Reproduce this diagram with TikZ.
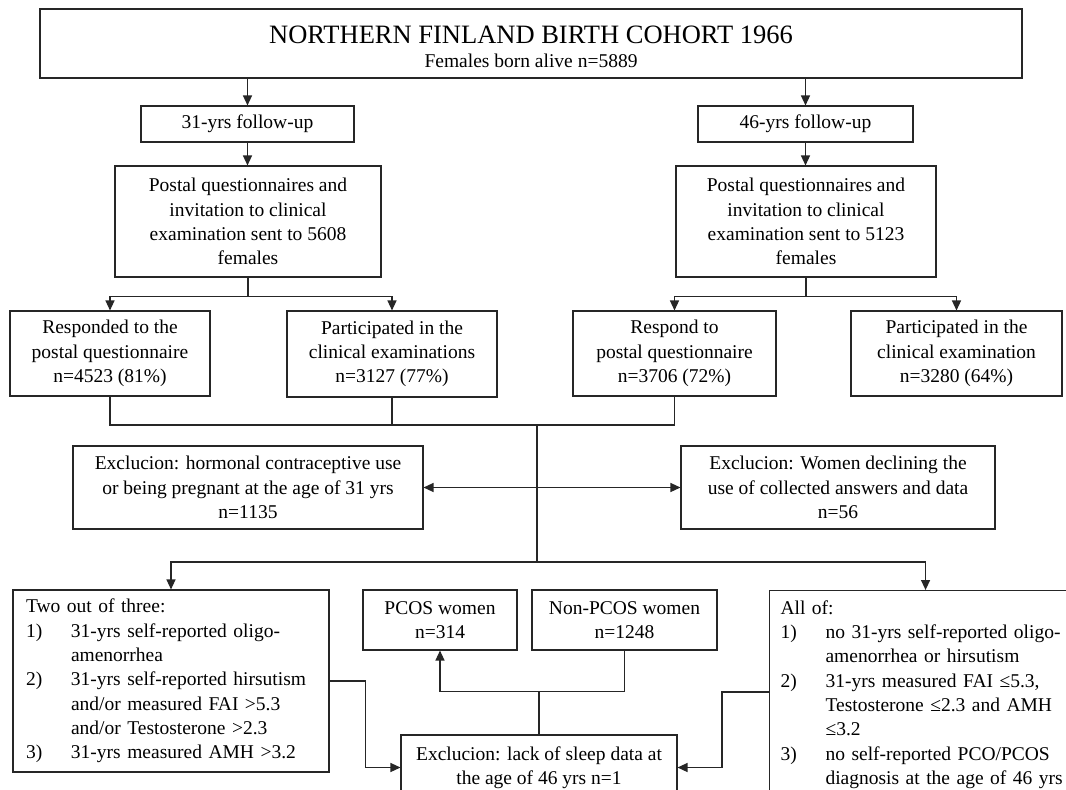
\documentclass[tikz,border=0pt]{standalone}
\usepackage{fontspec}
\setmainfont{Liberation Serif}
\usetikzlibrary{arrows.meta,calc}
\newcommand{\itemlab}[1]{\makebox[45pt][l]{#1}}
\newcommand{\itemind}{\hspace*{45pt}}
\begin{document}
\begin{tikzpicture}[x=1pt,y=-1pt,
  box/.style={draw=black!85, line width=1.1pt, rectangle, inner sep=0pt, align=center, font=\fontsize{19.5}{24.3}\selectfont},
  ln/.style={draw=black!85, line width=1.3pt},
  arr/.style={ln, -{Triangle[length=10pt,width=9pt]}},
  darr/.style={ln, {Triangle[length=10pt,width=9pt]}-{Triangle[length=10pt,width=9pt]}}]
\useasboundingbox (0,0) rectangle (1066,790);
\fill[white] (0,0) rectangle (1066,790);
\clip (0,0) rectangle (1066,790);

% top
\node[box, minimum width=982pt, minimum height=69pt] (top) at (531,43.5) {};
\node[font=\fontsize{26.5}{30}\selectfont, inner sep=0pt] (title) at (531,35) {NORTHERN FINLAND BIRTH COHORT 1966};
\node[font=\fontsize{19.5}{24}\selectfont, inner sep=0pt] (sub) at (531,61) {Females born alive n=5889};

% follow-ups
\node[box, minimum width=213pt, minimum height=36pt] (f31) at (247.5,124) {31-yrs follow-up};
\node[box, minimum width=215pt, minimum height=36pt] (f46) at (805.5,124) {46-yrs follow-up};

\node[box, minimum width=266pt, minimum height=111pt] (p31) at (248,221.5) {Postal questionnaires and\\invitation to clinical\\examination sent to 5608\\females};
\node[box, minimum width=260pt, minimum height=111pt] (p46) at (806,221.5) {Postal questionnaires and\\invitation to clinical\\examination sent to 5123\\females};

\node[box, minimum width=200pt, minimum height=85pt] (r31) at (110,353.5) {Responded to the\\postal questionnaire\\n=4523 (81\%)};
\node[box, minimum width=210pt, minimum height=86pt] (c31) at (392,354) {Participated in the\\clinical examinations\\n=3127 (77\%)};
\node[box, minimum width=203pt, minimum height=85pt] (r46) at (674.5,353.5) {Respond to\\postal questionnaire\\n=3706 (72\%)};
\node[box, minimum width=211pt, minimum height=85pt] (c46) at (956.5,353.5) {Participated in the\\clinical examination\\n=3280 (64\%)};

\node[box, minimum width=350pt, minimum height=83pt] (exL) at (248,487.5) {Exclucion: hormonal contraceptive use\\or being pregnant at the age of 31 yrs\\n=1135};
\node[box, minimum width=314pt, minimum height=83pt] (exR) at (838,487.5) {Exclucion: Women declining the\\use of collected answers and data\\n=56};

\node[box, minimum width=154pt, minimum height=60pt] (pcos) at (440,620) {PCOS women\\n=314};
\node[box, minimum width=185pt, minimum height=60pt] (non) at (624.5,620) {Non-PCOS women\\n=1248};
\node[box, minimum width=276pt, minimum height=65pt] (sleep) at (539,767.5) {Exclucion: lack of sleep data at\\the age of 46 yrs n=1};

\node[box, minimum width=316pt, minimum height=182pt, text width=290pt, align=left] (critL) at (171,681) {Two out of three:\\
\itemlab{1)}31-yrs self-reported oligo-\\
\itemind amenorrhea\\
\itemlab{2)}31-yrs self-reported hirsutism\\
\itemind and/or measured FAI >5.3\\
\itemind and/or Testosterone >2.3\\
\itemlab{3)}31-yrs measured AMH >3.2};

\node[box, anchor=north west, text width=290pt, align=left, inner xsep=11pt, inner ysep=10pt] (critR) at (769,590) {All of:\\
\itemlab{1)}no 31-yrs self-reported oligo-\\
\itemind amenorrhea or hirsutism\\
\itemlab{2)}31-yrs measured FAI ≤5.3,\\
\itemind Testosterone ≤2.3 and AMH\\
\itemind ≤3.2\\
\itemlab{3)}no self-reported PCO/PCOS\\
\itemind diagnosis at the age of 46 yrs};

% connectors
\draw[arr] (top.south -| f31.north) -- (f31.north);
\draw[arr] (top.south -| f46.north) -- (f46.north);
\draw[arr] (f31.south) -- (f31.south |- p31.north);
\draw[arr] (f46.south) -- (f46.south |- p46.north);

\coordinate (s31) at ($(p31.south)+(0,19)$);
\draw[ln] (p31.south) -- (s31);
\draw[arr] (s31) -| (r31.north);
\draw[arr] (s31) -| (c31.north);
\coordinate (s46) at ($(p46.south)+(0,19)$);
\draw[ln] (p46.south) -- (s46);
\draw[arr] (s46) -| (r46.north);
\draw[arr] (s46) -| (c46.north);

\coordinate (j) at (537,425);
\draw[ln] (r31.south) |- (j);
\draw[ln] (c31.south) -- (c31.south |- j);
\draw[ln] (r46.south) |- (j);
\coordinate (k) at (537,562);
\draw[ln] (j) -- (k);
\draw[arr] (k) -| (critL.north);
\draw[arr] (k) -| (critR.north);
\draw[darr] (exL.east) -- (exR.west);

\draw[arr] (critL.east) -- ++(36,0) |- (sleep.west);
\draw[arr] ([yshift=-102pt]critR.north west) -- ++(-47,0) |- (sleep.east);
\coordinate (m) at ($(sleep.north)+(0,-43)$);
\draw[ln] (sleep.north) -- (m);
\draw[arr] (m) -| (pcos.south);
\draw[ln] (m) -| (non.south);
\end{tikzpicture}
\end{document}
